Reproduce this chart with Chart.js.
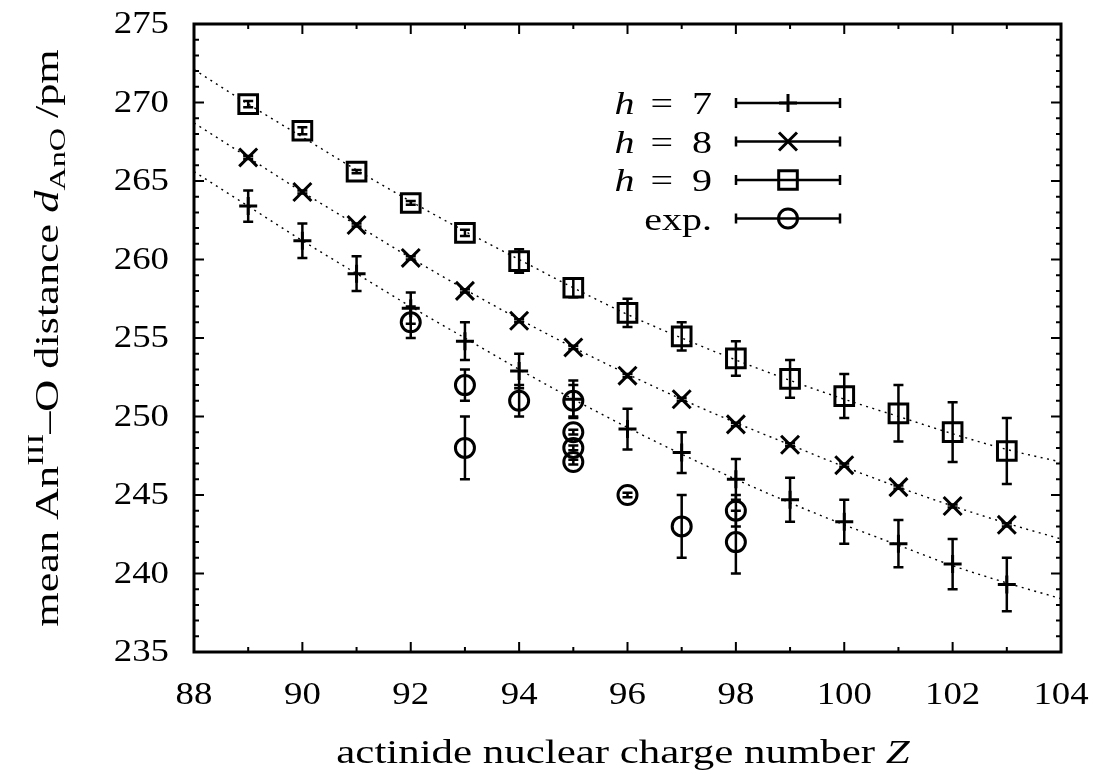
<!DOCTYPE html>
<html>
<head>
<meta charset="utf-8">
<script src="https://cdn.jsdelivr.net/npm/chart.js@4.4.0/dist/chart.umd.min.js"></script>
<style>
  html, body { margin: 0; padding: 0; background: #fff; }
  #wrap { width: 1106px; height: 774px; position: relative; }
</style>
</head>
<body>
<div id="wrap"><canvas id="chart"></canvas></div>
<script>
// model results, Z = 89..103
const zModel = [89, 90, 91, 92, 93, 94, 95, 96, 97, 98, 99, 100, 101, 102, 103];
const dH7 = [263.4, 261.2, 259.1, 256.9, 254.8, 252.9, 251.1, 249.2, 247.7, 246.0, 244.7, 243.3, 241.9, 240.6, 239.3];
const errH7 = [1.0, 1.1, 1.1, 1.0, 1.2, 1.1, 1.2, 1.3, 1.3, 1.3, 1.4, 1.4, 1.5, 1.6, 1.7];
const dH8 = [266.5, 264.3, 262.2, 260.1, 258.0, 256.1, 254.4, 252.6, 251.1, 249.5, 248.2, 246.9, 245.5, 244.3, 243.1];
const errH8 = [0.1, 0.1, 0.1, 0.1, 0.1, 0.1, 0.1, 0.1, 0.1, 0.1, 0.1, 0.1, 0.1, 0.1, 0.1];
const dH9 = [269.9, 268.2, 265.6, 263.6, 261.7, 259.9, 258.2, 256.6, 255.1, 253.7, 252.4, 251.3, 250.2, 249.0, 247.8];
const errH9 = [0.2, 0.22, 0.1, 0.12, 0.2, 0.75, 0.6, 0.9, 0.9, 1.1, 1.2, 1.4, 1.8, 1.9, 2.1];

// experimental values
const expZ = [92, 93, 93, 94, 95, 95, 95, 95, 96, 97, 98, 98];
const expD = [256, 252, 248, 251, 251, 249, 248, 247.1, 245, 243, 244, 242];
const expErr = [1, 1, 2, 1, 1, 0.15, 0.15, 0.15, 0.15, 2, 1, 2];

// fitted curves (dotted), read at integer Z
const fitZ = [88, 89, 90, 91, 92, 93, 94, 95, 96, 97, 98, 99, 100, 101, 102, 103, 104];
const fitH7 = [265.6, 263.4, 261.2, 259.1, 257.0, 255.0, 253.0, 251.1, 249.3, 247.6, 246.0, 244.5, 243.1, 241.8, 240.5, 239.4, 238.4];
const fitH8 = [268.7, 266.5, 264.3, 262.2, 260.1, 258.1, 256.2, 254.4, 252.7, 251.1, 249.6, 248.2, 246.8, 245.5, 244.3, 243.2, 242.2];
const fitH9 = [272.1, 269.9, 267.8, 265.7, 263.7, 261.8, 260.0, 258.2, 256.5, 255.0, 253.6, 252.3, 251.1, 250.0, 248.9, 247.9, 247.1];

const xTicks = [88, 90, 92, 94, 96, 98, 100, 102, 104];
const yTicks = [235, 240, 245, 250, 255, 260, 265, 270, 275];
const legendH = ['7', '8', '9'];
const legendExp = 'exp.';

const SERIF = '"Liberation Serif", "DejaVu Serif", serif';

function pts(xs, ys) {
    return xs.map((x, i) => ({ x: x, y: ys[i] }));
}

function fitDataset(ys) {
    return {
        type: 'line',
        data: pts(fitZ, ys),
        borderColor: '#000',
        borderWidth: 1.4,
        borderDash: [2, 4.5],
        pointRadius: 0,
        fill: false,
        cubicInterpolationMode: 'monotone',
        order: 10
    };
}

function markDataset(xs, ys, errs, style, radius) {
    return {
        data: pts(xs, ys),
        errors: errs,
        pointStyle: style,
        pointRadius: radius,
        pointBorderWidth: 3,
        borderColor: '#000',
        backgroundColor: 'rgba(0,0,0,0)',
        showLine: false,
        order: 1
    };
}

// text pieces drawn one after another, each stretched horizontally
// (Computer Modern is wider than the installed serif faces)
function drawRich(ctx, parts, x, y, align, stretch) {
    let total = 0;
    parts.forEach(p => {
        ctx.font = p.font;
        p.w = ctx.measureText(p.text).width * stretch + (p.gap || 0);
        total += p.w;
    });
    let cur = align === 'right' ? x - total : (align === 'left' ? x : x - total / 2);
    parts.forEach(p => {
        ctx.save();
        ctx.font = p.font;
        ctx.translate(cur, y + (p.dy || 0));
        ctx.scale(stretch, 1);
        ctx.fillText(p.text, 0, 0);
        ctx.restore();
        cur += p.w;
    });
}

function drawMarker(ctx, style, x, y) {
    ctx.beginPath();
    if (style === 'cross') {
        ctx.moveTo(x - 9, y); ctx.lineTo(x + 9, y);
        ctx.moveTo(x, y - 9); ctx.lineTo(x, y + 9);
    } else if (style === 'crossRot') {
        ctx.moveTo(x - 9, y - 9); ctx.lineTo(x + 9, y + 9);
        ctx.moveTo(x - 9, y + 9); ctx.lineTo(x + 9, y - 9);
    } else if (style === 'rect') {
        ctx.rect(x - 9.3, y - 9.3, 18.6, 18.6);
    } else {
        ctx.arc(x, y, 9.5, 0, Math.PI * 2);
    }
    ctx.stroke();
}

const gnuplotLook = {
    id: 'gnuplotLook',
    beforeDatasetsDraw(chart) {
        const ctx = chart.ctx;
        const ys = chart.scales.y;
        ctx.save();
        ctx.strokeStyle = '#000';
        ctx.lineWidth = 2.5;
        chart.data.datasets.forEach((ds, i) => {
            if (!ds.errors) return;
            const meta = chart.getDatasetMeta(i);
            meta.data.forEach((el, j) => {
                const v = ds.data[j].y;
                const top = ys.getPixelForValue(v + ds.errors[j]);
                const bot = ys.getPixelForValue(v - ds.errors[j]);
                ctx.beginPath();
                ctx.moveTo(el.x, top); ctx.lineTo(el.x, bot);
                ctx.moveTo(el.x - 5, top); ctx.lineTo(el.x + 5, top);
                ctx.moveTo(el.x - 5, bot); ctx.lineTo(el.x + 5, bot);
                ctx.stroke();
            });
        });
        ctx.restore();
    },
    afterDraw(chart) {
        const ctx = chart.ctx;
        const a = chart.chartArea;
        const xs = chart.scales.x;
        const ys = chart.scales.y;
        ctx.save();
        ctx.strokeStyle = '#000';
        ctx.fillStyle = '#000';

        // inward ticks, mirrored on all sides
        ctx.lineWidth = 2;
        ctx.beginPath();
        for (let z = xs.min; z <= xs.max; z += 1) {
            const px = xs.getPixelForValue(z);
            const len = xTicks.includes(z) ? 10 : 5;
            ctx.moveTo(px, a.bottom); ctx.lineTo(px, a.bottom - len);
            ctx.moveTo(px, a.top); ctx.lineTo(px, a.top + len);
        }
        for (let d = ys.min; d <= ys.max; d += 1) {
            const py = ys.getPixelForValue(d);
            const len = yTicks.includes(d) ? 10 : 5;
            ctx.moveTo(a.left, py); ctx.lineTo(a.left + len, py);
            ctx.moveTo(a.right, py); ctx.lineTo(a.right - len, py);
        }
        ctx.stroke();

        // frame
        ctx.lineWidth = 3;
        ctx.strokeRect(a.left, a.top, a.right - a.left, a.bottom - a.top);

        // tick labels
        const tickFont = '32px ' + SERIF;
        ctx.textBaseline = 'middle';
        yTicks.forEach(v => {
            drawRich(ctx, [{ text: String(v), font: tickFont }], a.left - 25, ys.getPixelForValue(v) + 1, 'right', 1.15);
        });
        ctx.textBaseline = 'alphabetic';
        xTicks.forEach(v => {
            drawRich(ctx, [{ text: String(v), font: tickFont }], xs.getPixelForValue(v), 704, 'center', 1.15);
        });

        // x title
        drawRich(ctx, [
            { text: 'actinide nuclear charge number ', font: '33px ' + SERIF },
            { text: 'Z', font: 'italic 33px ' + SERIF }
        ], 623, 763, 'center', 1.3);

        // y title, rotated
        ctx.save();
        ctx.translate(58, (a.top + a.bottom) / 2);
        ctx.rotate(-Math.PI / 2);
        drawRich(ctx, [
            { text: 'mean An', font: '33px ' + SERIF },
            { text: 'III', font: '24px ' + SERIF, dy: -15 },
            { text: '\u2013O distance ', font: '33px ' + SERIF },
            { text: 'd', font: 'italic 33px ' + SERIF },
            { text: 'AnO', font: '24px ' + SERIF, dy: 7, gap: 10 },
            { text: '/pm', font: '33px ' + SERIF }
        ], 0, 0, 'center', 1.34);
        ctx.restore();

        // legend
        const rows = legendH.map(h => [
            { text: 'h', font: 'italic 32px ' + SERIF, gap: 16 },
            { text: '=', font: '32px ' + SERIF, gap: 19 },
            { text: h, font: '32px ' + SERIF }
        ]);
        rows.push([{ text: legendExp, font: '32px ' + SERIF }]);
        const styles = ['cross', 'crossRot', 'rect', 'circle'];
        rows.forEach((parts, i) => {
            const cy = 103 + i * 38.5;
            drawRich(ctx, parts, 712, cy + 11, 'right', 1.25);
            ctx.lineWidth = 2.5;
            ctx.beginPath();
            ctx.moveTo(736, cy); ctx.lineTo(840, cy);
            ctx.moveTo(736, cy - 5); ctx.lineTo(736, cy + 5);
            ctx.moveTo(840, cy - 5); ctx.lineTo(840, cy + 5);
            ctx.stroke();
            ctx.lineWidth = 3;
            drawMarker(ctx, styles[i], 788, cy);
        });
        ctx.restore();
    }
};

const ctxEl = document.getElementById('chart');
new Chart(ctxEl, {
    type: 'scatter',
    data: {
        datasets: [
            fitDataset(fitH7),
            fitDataset(fitH8),
            fitDataset(fitH9),
            markDataset(zModel, dH7, errH7, 'cross', 9),
            markDataset(zModel, dH8, errH8, 'crossRot', 12.7),
            markDataset(zModel, dH9, errH9, 'rect', 13.2),
            markDataset(expZ, expD, expErr, 'circle', 9.5)
        ]
    },
    options: {
        responsive: true,
        maintainAspectRatio: false,
        animation: false,
        layout: { padding: { left: 0, top: 24, right: 45, bottom: 0 } },
        plugins: {
            legend: { display: false },
            tooltip: { enabled: false }
        },
        scales: {
            x: {
                type: 'linear',
                min: 88,
                max: 104,
                grid: { display: false, drawTicks: false },
                border: { display: false },
                ticks: { display: false },
                afterBuildTicks: s => { s.ticks = xTicks.map(v => ({ value: v })); },
                afterFit: s => { s.height = 122; s.paddingLeft = 0; s.paddingRight = 0; }
            },
            y: {
                type: 'linear',
                min: 235,
                max: 275,
                grid: { display: false, drawTicks: false },
                border: { display: false },
                ticks: { display: false },
                afterBuildTicks: s => { s.ticks = yTicks.map(v => ({ value: v })); },
                afterFit: s => { s.width = 194; s.paddingTop = 0; s.paddingBottom = 0; }
            }
        }
    },
    plugins: [gnuplotLook]
});
</script>
</body>
</html>
